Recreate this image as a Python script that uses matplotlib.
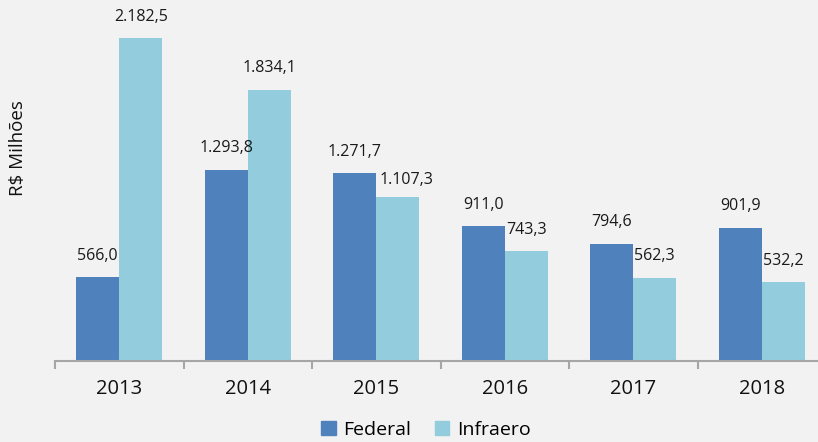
import matplotlib
matplotlib.use("Agg")
import matplotlib.pyplot as plt
from matplotlib.patches import Patch

# dados (R$ milhões)
anos     = ["2013", "2014", "2015", "2016", "2017", "2018"]
federal  = [566.0, 1293.8, 1271.7, 911.0, 794.6, 901.9]
infraero = [2182.5, 1834.1, 1107.3, 743.3, 562.3, 532.2]

BG = "#F2F2F2"; C_FED = "#4F81BD"; C_INF = "#93CDDD"; AX = "#A6A6A6"
plt.rcParams["font.family"] = ["Open Sans", "DejaVu Sans"]

def fmt_br(v):
    s = f"{v:,.1f}"
    return s.replace(",", "X").replace(".", ",").replace("X", ".")

fig = plt.figure(figsize=(8.18, 4.42), dpi=100)
fig.patch.set_facecolor(BG)
ax = fig.add_axes([55/818, 1 - 361/442, 771/818, 361/442])
ax.set_facecolor(BG)

x = list(range(len(anos)))
w = 0.335
b1 = ax.bar([i - w/2 for i in x], federal, w, color=C_FED, edgecolor="none")
b2 = ax.bar([i + w/2 for i in x], infraero, w, color=C_INF, edgecolor="none")

# rótulo da Infraero 2015 deslocado p/ não encostar no da Federal
nudge = {(1, 2): (6, -3)}
for k, (bars, vals) in enumerate(((b1, federal), (b2, infraero))):
    for i, (bar, v) in enumerate(zip(bars, vals)):
        dx, dy = nudge.get((k, i), (0, 0))
        ax.annotate(fmt_br(v), (bar.get_x() + bar.get_width()/2, v),
                    xytext=(dx, 15.5 + dy), textcoords="offset points",
                    ha="center", va="center", fontsize=11.5, color="#1A1A1A")

ax.set_xlim(-0.5, len(anos) - 0.5)
ax.set_ylim(0, 2443)
ax.set_yticks([])
for s in ("top", "right", "left"):
    ax.spines[s].set_visible(False)
ax.spines["bottom"].set_color(AX)
ax.spines["bottom"].set_linewidth(1.5)

ax.set_xticks([i - 0.5 for i in range(len(anos) + 1)])
ax.set_xticklabels([])
ax.tick_params(axis="x", which="major", length=6, width=1.5, color=AX)
ax.set_xticks(x, minor=True)
ax.set_xticklabels(anos, minor=True, fontsize=14.5, color="#111111")
ax.tick_params(axis="x", which="minor", length=0, pad=13)

fig.text(18/818, 1 - 148/442, "R$ Milhões", rotation=90, ha="center",
         va="center", fontsize=13.5, color="#111111")

handles = [Patch(color=C_FED, label="Federal"), Patch(color=C_INF, label="Infraero")]
fig.legend(handles=handles, loc="center", bbox_to_anchor=(426/818, 1 - 430/442),
           ncol=2, frameon=False, fontsize=14, handlelength=0.75,
           handleheight=0.75, handletextpad=0.4, columnspacing=1.2)

plt.savefig("out.png", dpi=100, facecolor=fig.get_facecolor())
